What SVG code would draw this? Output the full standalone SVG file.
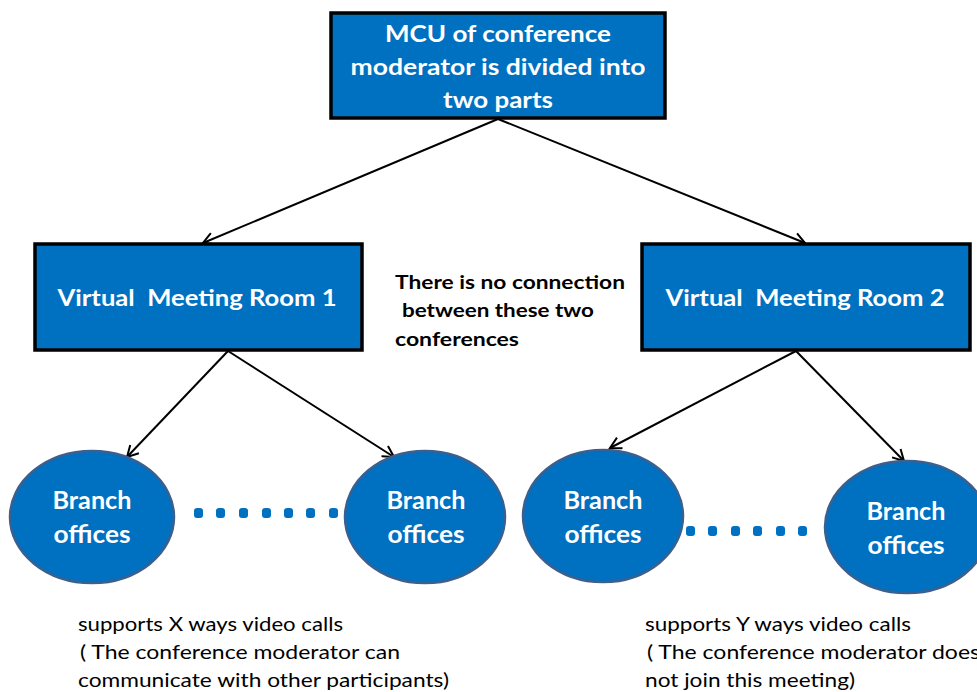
<svg xmlns="http://www.w3.org/2000/svg" width="977" height="692" viewBox="0 0 977 692">
<defs>
<marker id="arr" markerWidth="14" markerHeight="14" refX="12" refY="7" orient="auto" markerUnits="userSpaceOnUse">
<path d="M1,1 L12,7 L1,13" fill="none" stroke="#000" stroke-width="2"/>
</marker>
<style>
.box{fill:#0070C0;stroke:#000;stroke-width:3.5}
.ell{fill:#0070C0;stroke:#3B5F8E;stroke-width:2.5}
.wt{font-family:Lato,"Open Sans",sans-serif;font-weight:bold;fill:#fff;text-anchor:middle}
.bt{font-family:Lato,"Open Sans",sans-serif;font-weight:bold;fill:#000}
.nt{font-family:Lato,"Liberation Sans",sans-serif;fill:#000;font-size:19px}
.con{stroke:#000;stroke-width:2;fill:none;marker-end:url(#arr)}
.dot{fill:#0070C0}
</style>
</defs>
<g id="connectors">
<line class="con" x1="498" y1="119" x2="203" y2="243"/>
<line class="con" x1="498" y1="119" x2="805" y2="243"/>
<line class="con" x1="228" y1="351" x2="127" y2="457"/>
<line class="con" x1="228" y1="351" x2="394" y2="457"/>
<line class="con" x1="796" y1="351" x2="610" y2="448"/>
<line class="con" x1="796" y1="351" x2="904" y2="461"/>
</g>
<g id="mcu">
<rect class="box" x="331" y="13" width="334" height="105"/>
<text class="wt" font-size="23" x="498" y="42" textLength="226" lengthAdjust="spacingAndGlyphs">MCU of conference</text>
<text class="wt" font-size="23" x="498" y="75" textLength="295" lengthAdjust="spacingAndGlyphs">moderator is divided into</text>
<text class="wt" font-size="23" x="498" y="108" textLength="110" lengthAdjust="spacingAndGlyphs">two parts</text>
</g>
<g id="vmr1">
<rect class="box" x="35" y="244" width="327" height="106"/>
<text class="wt" font-size="23" x="197" y="306" textLength="279" lengthAdjust="spacingAndGlyphs" xml:space="preserve">Virtual  Meeting Room 1</text>
</g>
<g id="vmr2">
<rect class="box" x="642" y="244" width="328" height="106"/>
<text class="wt" font-size="23" x="805" y="306" textLength="279" lengthAdjust="spacingAndGlyphs" xml:space="preserve">Virtual  Meeting Room 2</text>
</g>
<g id="note">
<text class="bt" font-size="19" x="395" y="289" textLength="230" lengthAdjust="spacingAndGlyphs">There is no connection</text>
<text class="bt" font-size="19" x="402" y="317" textLength="192" lengthAdjust="spacingAndGlyphs">between these two</text>
<text class="bt" font-size="19" x="395" y="346" textLength="124" lengthAdjust="spacingAndGlyphs">conferences</text>
</g>
<g id="branch1">
<ellipse class="ell" cx="92" cy="517" rx="82" ry="66"/>
<text class="wt" font-size="24" x="92" y="509" textLength="79" lengthAdjust="spacingAndGlyphs">Branch</text>
<text class="wt" font-size="24" x="92" y="543" textLength="77" lengthAdjust="spacingAndGlyphs">offices</text>
</g>
<g id="branch2">
<ellipse class="ell" cx="425" cy="517" rx="80" ry="66"/>
<text class="wt" font-size="24" x="426" y="509" textLength="79" lengthAdjust="spacingAndGlyphs">Branch</text>
<text class="wt" font-size="24" x="426" y="543" textLength="77" lengthAdjust="spacingAndGlyphs">offices</text>
</g>
<g id="branch3">
<ellipse class="ell" cx="603" cy="516" rx="80" ry="66"/>
<text class="wt" font-size="24" x="603" y="509" textLength="79" lengthAdjust="spacingAndGlyphs">Branch</text>
<text class="wt" font-size="24" x="603" y="543" textLength="77" lengthAdjust="spacingAndGlyphs">offices</text>
</g>
<g id="branch4">
<ellipse class="ell" cx="907" cy="527" rx="82" ry="66"/>
<text class="wt" font-size="24" x="906" y="520" textLength="79" lengthAdjust="spacingAndGlyphs">Branch</text>
<text class="wt" font-size="24" x="906" y="554" textLength="77" lengthAdjust="spacingAndGlyphs">offices</text>
</g>
<g id="dots1">
<rect class="dot" x="194" y="508" width="9" height="10" rx="3"/>
<rect class="dot" x="216" y="508" width="9" height="10" rx="3"/>
<rect class="dot" x="239" y="508" width="9" height="10" rx="3"/>
<rect class="dot" x="262" y="508" width="9" height="10" rx="3"/>
<rect class="dot" x="284" y="508" width="9" height="10" rx="3"/>
<rect class="dot" x="306" y="508" width="9" height="10" rx="3"/>
<rect class="dot" x="329" y="508" width="9" height="10" rx="3"/>
</g>
<g id="dots2">
<rect class="dot" x="686" y="526" width="9" height="10" rx="3"/>
<rect class="dot" x="708" y="526" width="9" height="10" rx="3"/>
<rect class="dot" x="731" y="526" width="9" height="10" rx="3"/>
<rect class="dot" x="753" y="526" width="9" height="10" rx="3"/>
<rect class="dot" x="776" y="526" width="9" height="10" rx="3"/>
<rect class="dot" x="798" y="526" width="9" height="10" rx="3"/>
</g>
<g id="caption1">
<text class="nt" x="78" y="631" textLength="265" lengthAdjust="spacingAndGlyphs">supports X ways video calls</text>
<text class="nt" x="80" y="659" textLength="320" lengthAdjust="spacingAndGlyphs">( The conference moderator can</text>
<text class="nt" x="78" y="687" textLength="371" lengthAdjust="spacingAndGlyphs">communicate with other participants)</text>
</g>
<g id="caption2">
<text class="nt" x="645" y="631" textLength="266" lengthAdjust="spacingAndGlyphs">supports Y ways video calls</text>
<text class="nt" x="647" y="659" textLength="333" lengthAdjust="spacingAndGlyphs">( The conference moderator does</text>
<text class="nt" x="645" y="687" textLength="210" lengthAdjust="spacingAndGlyphs">not join this meeting)</text>
</g>
</svg>
